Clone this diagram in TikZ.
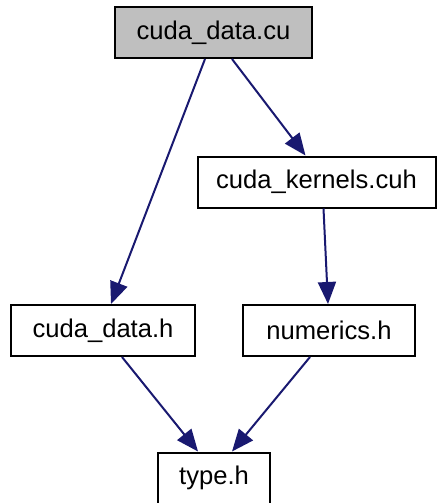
\documentclass[tikz,border=0pt]{standalone}
\usepackage{fontspec}
\setmainfont{Liberation Sans}
\usetikzlibrary{arrows.meta}
\definecolor{edgeblue}{HTML}{191970}
\definecolor{rootgray}{HTML}{BFBFBF}

\begin{document}
\begin{tikzpicture}[x=0.5pt,y=-0.5pt,
    file/.style={draw=black, line width=1pt, fill=white, inner sep=0pt,
        minimum height=25.5pt, font=\fontsize{12.8}{15}\selectfont},
    incl/.style={draw=edgeblue, line width=1pt,
        -{Triangle[length=11pt,width=9pt]}}]
\useasboundingbox (0,0) rectangle (436,503);
\node[file, fill=rootgray, minimum width=98.5pt] (cu) at (213.5,32.5) {cuda\_data.cu};
\node[file, minimum width=119pt] (kern) at (316.5,182) {cuda\_kernels.cuh};
\node[file, minimum width=92pt] (dh) at (103,330.5) {cuda\_data.h};
\node[file, minimum width=86pt] (num) at (329,330.5) {numerics.h};
\node[file, minimum width=56pt] (type) at (214,478) {type.h};
% edges
\draw[incl] ([xshift=-4.25pt]cu.south) -- ([xshift=4pt]dh.north);
\draw[incl] ([xshift=9.25pt]cu.south) -- ([xshift=-5.5pt]kern.north);
\draw[incl] ([xshift=3.5pt]kern.south) -- ([xshift=-0.5pt]num.north);
\draw[incl] ([xshift=9.5pt]dh.south) -- ([xshift=-8pt]type.north);
\draw[incl] ([xshift=-9.5pt]num.south) -- ([xshift=9pt]type.north);
\end{tikzpicture}
\end{document}
